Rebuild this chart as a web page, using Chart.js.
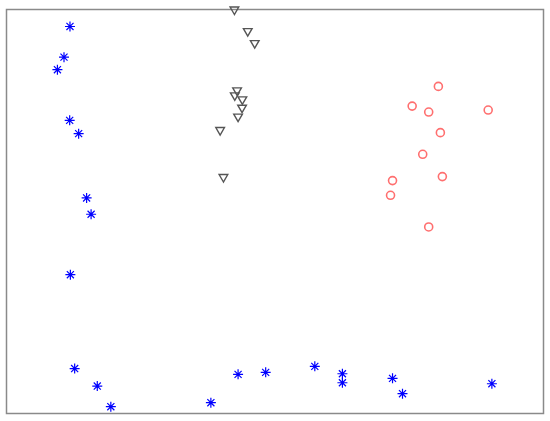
<!DOCTYPE html>
<html>
<head>
<meta charset="utf-8">
<script src="https://cdn.jsdelivr.net/npm/chart.js@4/dist/chart.umd.min.js"></script>
<style>
  html, body { margin: 0; padding: 0; background: #fff; }
  #wrap { width: 550px; height: 421px; position: relative; }
</style>
</head>
<body>
<div id="wrap"><canvas id="chart"></canvas></div>
<script>
// ===== Dados =====
const blueX = [63.8, 57.8, 51.2, 63.5, 72.5, 80.5, 85.0, 64.2, 68.5, 91.2, 104.8, 205.2, 232.5, 260.2, 309.5, 337.2, 337.2, 387.5, 397.5, 487.2];
const blueY = [387.0, 356.3, 343.7, 293.0, 279.7, 215.3, 199.0, 138.5, 44.5, 27.0, 6.3, 10.3, 38.7, 40.7, 46.7, 39.3, 30.3, 34.7, 19.3, 29.3];

const grayX = [228.8, 242.2, 249.2, 231.5, 229.2, 236.8, 236.5, 232.5, 214.5, 217.8];
const grayY = [404.0, 382.3, 370.3, 323.0, 318.0, 314.0, 305.7, 296.7, 283.3, 236.3];

const redX = [433.5, 407.2, 423.8, 483.5, 435.5, 417.8, 437.5, 387.5, 385.5, 423.8];
const redY = [327.0, 307.3, 301.3, 303.3, 280.7, 259.0, 236.7, 232.7, 218.0, 186.3];

const xRange = [0, 538.5];
const yRange = [0, 404.5];

// Junta x e y em pontos
function toPoints(xs, ys) {
  return xs.map((x, i) => ({ x: x, y: ys[i] }));
}

// Moldura em volta da área do gráfico
const frame = {
  id: 'frame',
  beforeDatasetsDraw(chart) {
    const { ctx, chartArea: a } = chart;
    ctx.save();
    ctx.strokeStyle = '#8a8a8a';
    ctx.lineWidth = 1.5;
    ctx.strokeRect(Math.round(a.left) + 0.5, Math.round(a.top) + 0.5,
      Math.round(a.right - a.left), Math.round(a.bottom - a.top));
    ctx.restore();
  }
};

new Chart(document.getElementById('chart'), {
  type: 'scatter',
  data: {
    datasets: [
      {
        label: 'blue',
        data: toPoints(blueX, blueY),
        pointStyle: 'star',
        pointRadius: 5,
        borderColor: '#0000ff',
        backgroundColor: '#0000ff',
        pointBorderWidth: 1.2
      },
      {
        label: 'gray',
        data: toPoints(grayX, grayY),
        pointStyle: 'triangle',
        rotation: 180,
        pointRadius: 5,
        borderColor: '#555555',
        backgroundColor: 'rgba(0,0,0,0)',
        pointBorderWidth: 1.4
      },
      {
        label: 'red',
        data: toPoints(redX, redY),
        pointStyle: 'circle',
        pointRadius: 4,
        borderColor: '#ff6f6f',
        backgroundColor: 'rgba(0,0,0,0)',
        pointBorderWidth: 1.6
      }
    ]
  },
  options: {
    responsive: true,
    maintainAspectRatio: false,
    animation: false,
    clip: false,
    layout: { padding: { left: 4, top: 9, right: 7, bottom: 8 } },
    plugins: {
      legend: { display: false },
      tooltip: { enabled: false }
    },
    scales: {
      x: { type: 'linear', min: xRange[0], max: xRange[1], display: false },
      y: { type: 'linear', min: yRange[0], max: yRange[1], display: false }
    }
  },
  plugins: [frame]
});
</script>
</body>
</html>
